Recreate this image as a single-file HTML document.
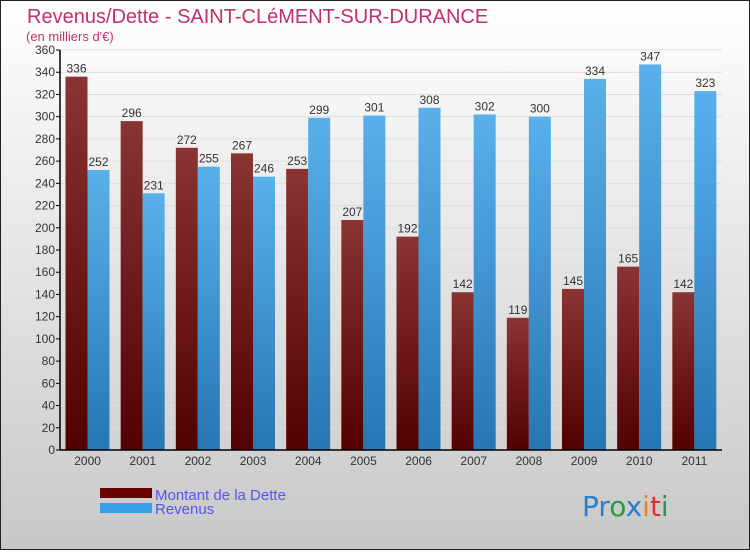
<!DOCTYPE html>
<html><head><meta charset="utf-8"><style>
body{margin:0;width:750px;height:550px;overflow:hidden;font-family:"Liberation Sans",sans-serif}
</style></head><body>
<svg width="750" height="550" xmlns="http://www.w3.org/2000/svg">
<defs>
<linearGradient id="bg" x1="0" y1="0" x2="0" y2="1"><stop offset="0" stop-color="#ffffff"/><stop offset="1" stop-color="#c8c8c8"/></linearGradient>
<linearGradient id="gr" x1="0" y1="0" x2="0" y2="1"><stop offset="0" stop-color="#8a3434"/><stop offset="1" stop-color="#520000"/></linearGradient>
<linearGradient id="gb" x1="0" y1="0" x2="0" y2="1"><stop offset="0" stop-color="#5ab0ea"/><stop offset="1" stop-color="#2676b4"/></linearGradient>
</defs>
<rect x="0.5" y="0.5" width="749" height="549" fill="url(#bg)" stroke="#222"/>
<text x="27" y="23" font-size="20" fill="#c0306a">Revenus/Dette - SAINT-CLéMENT-SUR-DURANCE</text>
<text x="26" y="41" font-size="13" fill="#c0306a">(en milliers d'€)</text>
<g id="grid"></g>
<g id="bars"></g>
<g id="axes"></g>
<rect x="100" y="488" width="52" height="10" fill="#6a0000"/>
<rect x="100" y="503" width="52" height="10" fill="#3a9ee6"/>
<text x="155" y="500" font-size="15" fill="#5555ee">Montant de la Dette</text>
<text x="155" y="514" font-size="15" fill="#5555ee">Revenus</text>
<text x="582" y="516" font-size="28" font-family="'DejaVu Sans',sans-serif"><tspan fill="#2a7fd0">Pr</tspan><tspan fill="#2a9a40">o</tspan><tspan fill="#2a7fd0">x</tspan><tspan fill="#f08020">i</tspan><tspan fill="#e03030">t</tspan><tspan fill="#2a9a40">i</tspan></text>
</svg>
<script>
const years=["2000","2001","2002","2003","2004","2005","2006","2007","2008","2009","2010","2011"];
const dette=[336,296,272,267,253,207,192,142,119,145,165,142];
const revenus=[252,231,255,246,299,301,308,302,300,334,347,323];
const ticks=[0,20,40,60,80,100,120,140,160,180,200,220,240,260,280,300,320,340,360];
const NS="http://www.w3.org/2000/svg";
const x0=60,x1=722,y0=450,y1=50,ymax=360;
const gw=(x1-x0)/years.length;
const Y=v=>y0-(v/ymax)*(y0-y1);
const X=i=>x0+i*gw;
function mk(t,a,p){const e=document.createElementNS(NS,t);for(const k in a)e.setAttribute(k,a[k]);p.appendChild(e);return e;}
const grid=document.getElementById('grid'),bars=document.getElementById('bars'),axes=document.getElementById('axes');
ticks.forEach(t=>{
 const l=mk('line',{x1:x0,x2:x1,y1:Y(t),y2:Y(t),stroke:'#dddddd','stroke-width':1},grid);
 
 
 const tk=mk('line',{x1:x0-4,x2:x0,y1:Y(t),y2:Y(t),stroke:'#000'},axes);
 
 
 const tx=mk('text',{x:x0-5,y:Y(t)+4,'font-size':12,fill:'#333','text-anchor':'end'},axes);
 tx.textContent=t;
 
 
});
years.forEach((yr,i)=>{
 const bx=X(i)+5.5,bw=22;
 const r=mk('rect',{x:bx,y:Y(dette[i]),width:bw,height:y0-Y(dette[i]),fill:'url(#gr)'},bars);
 
 
 const b=mk('rect',{x:bx+bw,y:Y(revenus[i]),width:bw,height:y0-Y(revenus[i]),fill:'url(#gb)'},bars);
 
 
 const t1=mk('text',{x:bx+bw/2,y:Y(dette[i])-4,'font-size':12,fill:'#333','text-anchor':'middle'},bars);
 t1.textContent=dette[i];
 
 
 const t2=mk('text',{x:bx+bw*1.5,y:Y(revenus[i])-4,'font-size':12,fill:'#333','text-anchor':'middle'},bars);
 t2.textContent=revenus[i];
 
 
 const xl=mk('text',{x:X(i)+gw/2,y:y0+15,'font-size':12,fill:'#333','text-anchor':'middle'},axes);
 xl.textContent=yr;
 
 
});
const ax=mk('line',{x1:x0,x2:x0,y1:y1,y2:y0,stroke:'#000','stroke-width':1.5},axes);


const bx_=mk('line',{x1:x0,x2:x1,y1:y0,y2:y0,stroke:'#000','stroke-width':1.5},axes);


</script>
</body></html>
